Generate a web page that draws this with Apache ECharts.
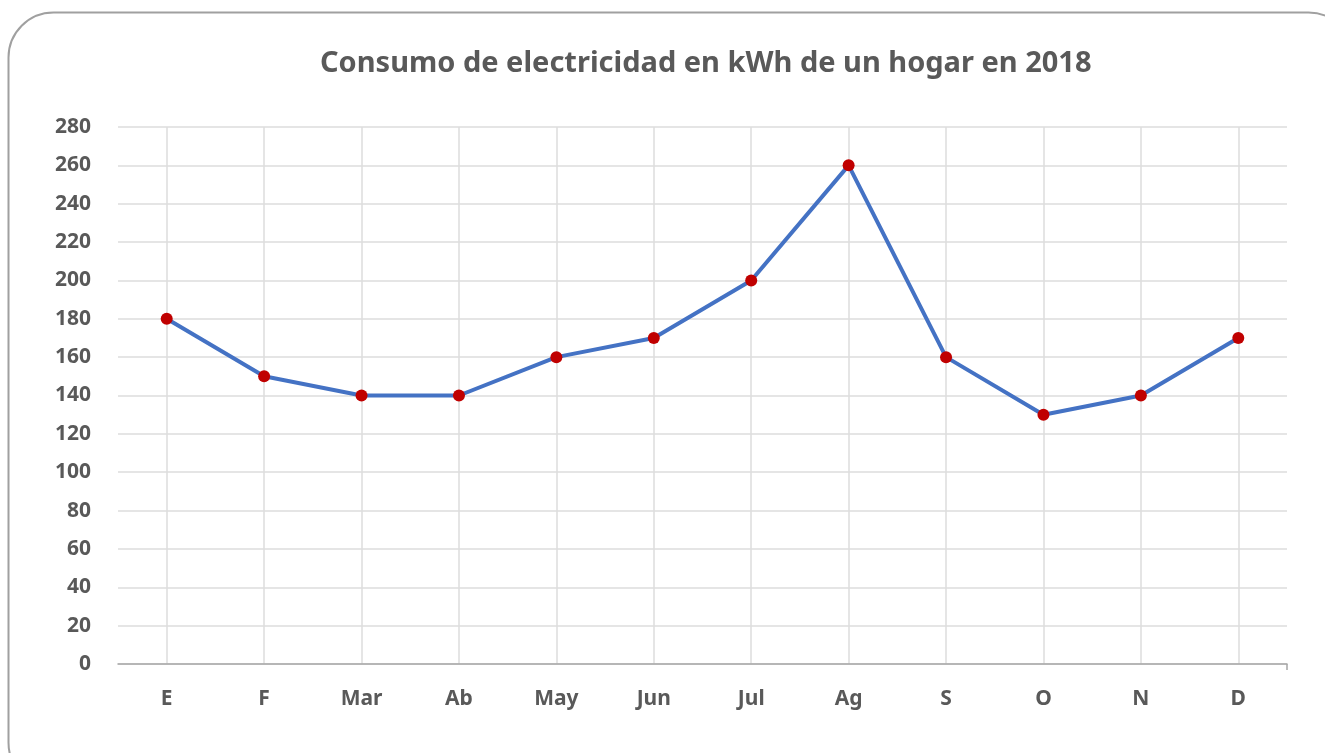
<!DOCTYPE html>
<html>
<head>
    <meta charset="utf-8">
    <style>
        body { margin: 0; background-color: #fff; }
        #main { width: 1325px; height: 753px; }
    </style>
    <script src="https://cdn.jsdelivr.net/npm/echarts@6/dist/echarts.min.js"></script>
</head>
<body>
    <div id="main"></div>
    <script type="text/javascript">
        var months = ['E', 'F', 'Mar', 'Ab', 'May', 'Jun', 'Jul', 'Ag', 'S', 'O', 'N', 'D'];
        var consumo = [180, 150, 140, 140, 160, 170, 200, 260, 160, 130, 140, 170];
        var titulo = 'Consumo de electricidad en kWh de un hogar en 2018';

        var font = '"Noto Sans", "Open Sans", sans-serif';
        var grey = '#595959';

        var myChart = echarts.init(document.getElementById('main'));

        var option = {
            backgroundColor: '#fff',
            animation: false,
            graphic: [{
                type: 'rect',
                left: 6, top: 10,
                shape: { width: 1345, height: 775, r: 45 },
                style: { fill: 'none', stroke: '#a0a0a0', lineWidth: 2 },
                silent: true
            }],
            title: {
                text: titulo,
                left: 315,
                top: 44,
                textStyle: { fontFamily: font, fontSize: 29, fontWeight: 'bold', color: grey }
            },
            grid: { left: 118, right: 38, top: 127, bottom: 89 },
            xAxis: [{
                type: 'category',
                data: months,
                boundaryGap: true,
                axisLine: { lineStyle: { color: '#a6a6a6', width: 1.5 } },
                axisTick: { alignWithLabel: true, length: 6, lineStyle: { color: '#a6a6a6', width: 1.5 } },
                axisLabel: { margin: 25, fontFamily: font, fontSize: 21, fontWeight: 'bold', color: grey },
                splitLine: { show: true, alignWithLabel: true, lineStyle: { color: '#dcdcdc', width: 1.5 } }
            }, {
                // only for the closing tick at the right end of the axis
                type: 'value',
                position: 'bottom',
                min: 0, max: 1,
                axisLine: { show: false },
                axisTick: { show: true, customValues: [1], length: 6, lineStyle: { color: '#a6a6a6', width: 1.5 } },
                axisLabel: { show: false },
                splitLine: { show: false }
            }],
            yAxis: {
                type: 'value',
                min: 0, max: 280, interval: 20,
                axisLine: { show: false },
                axisTick: { show: false },
                axisLabel: { margin: 27, fontFamily: font, fontSize: 21, fontWeight: 'bold', color: grey },
                splitLine: { lineStyle: { color: '#dcdcdc', width: 1.5 } }
            },
            series: [{
                type: 'line',
                xAxisIndex: 0,
                data: consumo,
                symbol: 'circle',
                symbolSize: 12,
                lineStyle: { color: '#4472c4', width: 4 },
                itemStyle: { color: '#c00000' },
                z: 5
            }]
        };

        myChart.setOption(option);
    </script>
</body>
</html>
